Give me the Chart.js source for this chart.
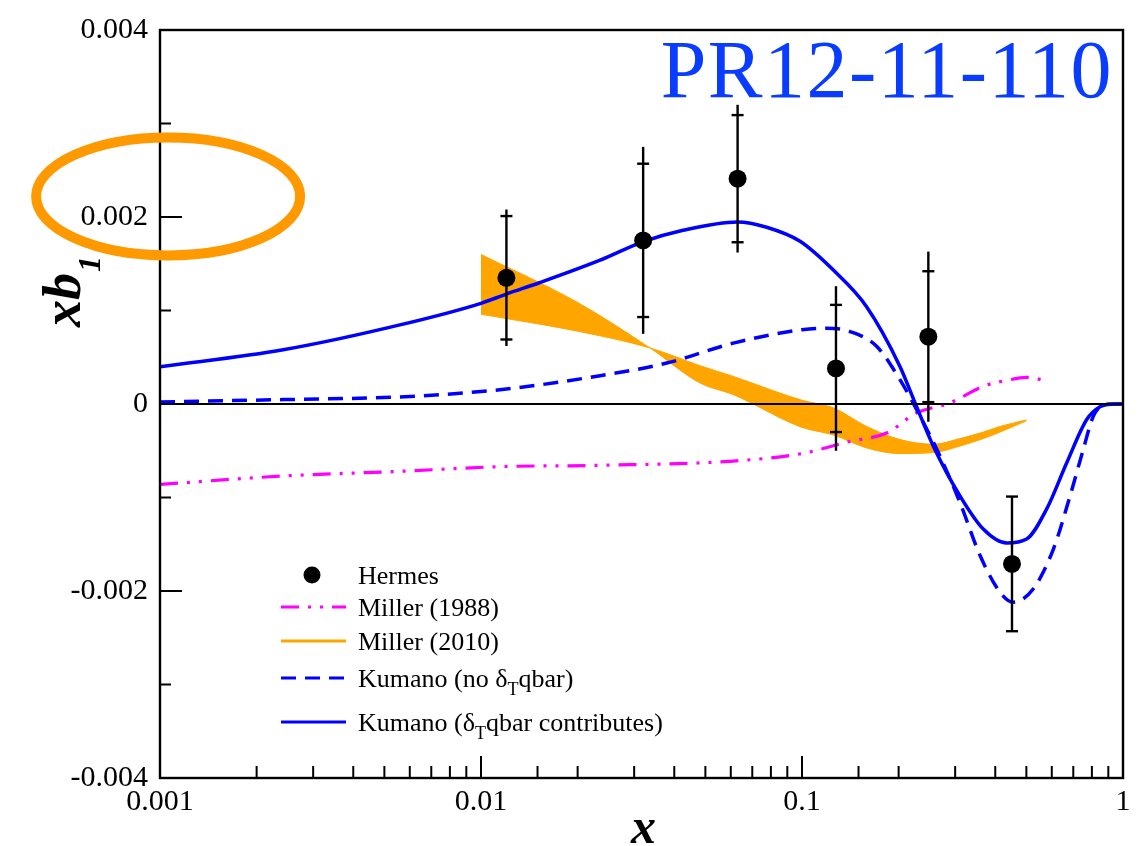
<!DOCTYPE html>
<html>
<head>
<meta charset="utf-8">
<script src="https://cdn.jsdelivr.net/npm/chart.js@4.4.0/dist/chart.umd.min.js"></script>
<style>
    html, body { margin: 0; padding: 0; background: #fff; }
    canvas { display: block; }
</style>
</head>
<body>
<canvas id="myChart" width="1138" height="846"></canvas>
<script>
// tick labels
let xTickLabels = ['0.001', '0.01', '0.1', '1'];
let yTickLabels = ['-0.004', '-0.002', '0', '0.002', '0.004'];

// Hermes data (stat = inner caps, tot = full bar)
let hermesX = [0.0120, 0.0320, 0.0630, 0.1276, 0.2475, 0.451];
let hermesY = [0.00135, 0.00175, 0.00241, 0.00038, 0.00072, -0.00171];
let hermesStat = [0.00066, 0.00082, 0.00068, 0.00068, 0.00070, 0.00072];
let hermesTot = [0.00073, 0.00100, 0.00079, 0.00088, 0.00091, 0.00072];

// Miller (1988)
let miller88X = [0.001, 0.00242, 0.00559, 0.01146, 0.0235, 0.0611, 0.1, 0.141, 0.1835, 0.2276, 0.289, 0.367, 0.434, 0.501, 0.578];
let miller88Y = [-0.00086, -0.00077, -0.00072, -0.00067, -0.000656, -0.00061, -0.00053, -0.0004, -0.00031, -0.000095, 0.000012, 0.00019, 0.000253, 0.000285, 0.000249];

// Miller (2010) band edges
let miller10X = [0.01, 0.0199, 0.0336, 0.0481, 0.0611, 0.1, 0.125, 0.159, 0.202, 0.257, 0.3105, 0.367, 0.414, 0.5];
let miller10A = [0.0016, 0.00109, 0.0006, 0.000225, 0.0001, -0.00025, -0.00033, -0.00047, -0.00053, -0.00052, -0.00045, -0.00037, -0.0003, -0.00018];
let miller10B = [0.00096, 0.00078, 0.0006, 0.00041, 0.000295, 0.00004, -0.00004, -0.00024, -0.00038, -0.00043, -0.00037, -0.0003, -0.00024, -0.00017];

// Kumano (no dT qbar)
let kumanoNoX = [0.001, 0.00242, 0.00559, 0.01146, 0.0235, 0.0379, 0.0611, 0.1, 0.1193, 0.1411, 0.171, 0.2019, 0.2276, 0.269, 0.3105, 0.359, 0.414, 0.455, 0.525, 0.607, 0.684, 0.752, 0.808, 0.87, 0.93, 1];
let kumanoNoY = [0.000022, 0.000047, 0.000076, 0.000153, 0.000303, 0.000438, 0.000651, 0.000795, 0.000811, 0.000775, 0.000615, 0.00026, -0.00006, -0.000557, -0.001054, -0.001623, -0.002013, -0.00212, -0.001978, -0.001551, -0.000983, -0.000486, -0.000131, -0.00001, 0, 0];

// Kumano (dT qbar contributes)
let kumanoX = [0.001, 0.00242, 0.00559, 0.01, 0.012, 0.0152, 0.0235, 0.0319, 0.0426, 0.063, 0.0776, 0.0986, 0.1252, 0.1589, 0.2019, 0.225, 0.2566, 0.3105, 0.367, 0.434, 0.501, 0.578, 0.668, 0.771, 0.848, 0.92, 1];
let kumanoY = [0.000398, 0.00058, 0.000846, 0.001077, 0.001176, 0.001297, 0.001538, 0.001734, 0.001858, 0.001947, 0.00189, 0.00174, 0.001432, 0.001041, 0.000402, 0.0000117, -0.000451, -0.000983, -0.001338, -0.001487, -0.001445, -0.001125, -0.000628, -0.000166, -0.00003, -0.000002, 0];

let pts = (xs, ys) => xs.map((x, i) => ({x: x, y: ys[i]}));

let serif = '"Liberation Serif", "Times New Roman", serif';
let orange = '#ffa500';
let blue = '#0000ff';
let magenta = '#ff00ff';

let datasets = [
    {
        label: 'Hermes',
        data: pts(hermesX, hermesY),
        showLine: false,
        pointRadius: 9,
        pointBackgroundColor: '#000',
        pointBorderWidth: 0,
        order: 0
    },
    {
        label: 'Kumano (δ_Tqbar contributes)',
        data: pts(kumanoX, kumanoY),
        borderColor: blue,
        borderWidth: 3.5,
        pointRadius: 0,
        cubicInterpolationMode: 'monotone',
        order: 1
    },
    {
        label: 'Kumano (no δ_Tqbar)',
        data: pts(kumanoNoX, kumanoNoY),
        borderColor: blue,
        borderWidth: 3.5,
        borderDash: [15, 9],
        pointRadius: 0,
        cubicInterpolationMode: 'monotone',
        order: 2
    },
    {
        label: 'Miller (1988)',
        data: pts(miller88X, miller88Y),
        borderColor: magenta,
        borderWidth: 3.2,
        borderDash: [18, 9, 3, 9, 3, 9],
        pointRadius: 0,
        cubicInterpolationMode: 'monotone',
        order: 3
    },
    {
        label: 'Miller (2010)',
        data: pts(miller10X, miller10A),
        borderColor: orange,
        backgroundColor: orange,
        borderWidth: 1,
        pointRadius: 0,
        cubicInterpolationMode: 'monotone',
        fill: '+1',
        order: 4
    },
    {
        label: 'Miller (2010) lower',
        data: pts(miller10X, miller10B),
        borderColor: orange,
        borderWidth: 1,
        pointRadius: 0,
        cubicInterpolationMode: 'monotone',
        fill: false,
        order: 5
    }
];

let line = (ctx, x1, y1, x2, y2) => {
    ctx.beginPath();
    ctx.moveTo(x1, y1);
    ctx.lineTo(x2, y2);
    ctx.stroke();
};

// draws text, a char after '_' goes as subscript
let richText = (ctx, text, x, y, size, subSize, subDrop) => {
    let parts = text.split('_');
    let cx = x;
    parts.forEach((p, i) => {
        if (i > 0) {
            ctx.font = subSize + 'px ' + serif;
            ctx.fillText(p[0], cx, y + subDrop);
            cx += ctx.measureText(p[0]).width;
            p = p.slice(1);
        }
        ctx.font = size + 'px ' + serif;
        ctx.fillText(p, cx, y);
        cx += ctx.measureText(p).width;
    });
};

let decorPlugin = {
    id: 'decor',
    afterDatasetsDraw(chart) {
        let {ctx, chartArea, scales: {x, y}} = chart;
        ctx.save();
        ctx.strokeStyle = '#000';

        // zero line
        ctx.lineWidth = 2;
        let y0 = y.getPixelForValue(0);
        line(ctx, chartArea.left, y0, chartArea.right, y0);

        // error bars
        ctx.lineWidth = 2.4;
        hermesX.forEach((xv, i) => {
            let px = x.getPixelForValue(xv);
            line(ctx, px, y.getPixelForValue(hermesY[i] + hermesTot[i]), px, y.getPixelForValue(hermesY[i] - hermesTot[i]));
            [hermesY[i] + hermesStat[i], hermesY[i] - hermesStat[i]].forEach(v => {
                let py = y.getPixelForValue(v);
                line(ctx, px - 6, py, px + 6, py);
            });
        });
        ctx.restore();
    },
    afterDraw(chart) {
        let {ctx, chartArea, scales: {x, y}} = chart;
        let {left, right, top, bottom} = chartArea;
        ctx.save();
        ctx.strokeStyle = '#000';
        ctx.lineWidth = 2.4;
        ctx.strokeRect(left, top, right - left, bottom - top);

        // y ticks, inward
        ctx.lineWidth = 2;
        let yt = y.ticks.map(t => t.value);
        yt.forEach((v, i) => {
            let py = y.getPixelForValue(v);
            line(ctx, left, py, left + 22, py);
            if (i < yt.length - 1) {
                let pm = y.getPixelForValue((v + yt[i + 1]) / 2);
                line(ctx, left, pm, left + 11, pm);
            }
        });
        // x ticks, inward
        x.ticks.forEach(t => {
            let px = x.getPixelForValue(t.value);
            let e = Math.log10(t.value);
            let major = Math.abs(e - Math.round(e)) < 1e-6;
            line(ctx, px, bottom, px, bottom - (major ? 22 : 12));
        });

        // axis titles
        ctx.fillStyle = '#000';
        ctx.textAlign = 'center';
        ctx.textBaseline = 'alphabetic';
        ctx.font = 'italic bold 50px ' + serif;
        ctx.fillText('x', (left + right) / 2 + 2, 843);

        ctx.save();
        ctx.translate(80, 327);
        ctx.rotate(-Math.PI / 2);
        ctx.textAlign = 'left';
        ctx.font = 'italic bold 54px ' + serif;
        ctx.fillText('xb', 0, 0);
        let w = ctx.measureText('xb').width;
        ctx.font = 'italic bold 32px ' + serif;
        ctx.fillText('1', w + 1, 20);
        ctx.restore();

        // legend
        let rows = [575, 607, 641, 678, 722];
        let legendOrder = [0, 3, 4, 2, 1];
        ctx.textAlign = 'left';
        legendOrder.forEach((di, r) => {
            let ds = chart.data.datasets[di];
            let ry = rows[r];
            if (di === 0) {
                ctx.beginPath();
                ctx.arc(312, ry, 8.5, 0, Math.PI * 2);
                ctx.fillStyle = '#000';
                ctx.fill();
            } else {
                ctx.strokeStyle = ds.borderColor;
                ctx.lineWidth = 3.2;
                ctx.setLineDash(ds.borderDash || []);
                line(ctx, 281, ry, 346, ry);
                ctx.setLineDash([]);
            }
            ctx.fillStyle = '#000';
            richText(ctx, ds.label, 358, ry + 9, 26, 18, 8);
        });

        // title
        ctx.fillStyle = '#0a3cff';
        ctx.textAlign = 'right';
        ctx.font = '82px ' + serif;
        ctx.letterSpacing = '1.5px';
        ctx.fillText('PR12-11-110', 1113, 97);
        ctx.letterSpacing = '0px';

        // highlight ring
        ctx.strokeStyle = '#ff9900';
        ctx.lineWidth = 10;
        ctx.beginPath();
        ctx.ellipse(x.getPixelForValue(0.00106), y.getPixelForValue(0.00222), 132, 59, 0, 0, Math.PI * 2);
        ctx.stroke();
        ctx.restore();
    }
};

new Chart(document.getElementById('myChart'), {
    type: 'line',
    data: {datasets: datasets},
    options: {
        responsive: false,
        animation: false,
        devicePixelRatio: 1,
        layout: {padding: {top: 29, right: 15, left: 0, bottom: 0}},
        plugins: {legend: {display: false}, tooltip: {enabled: false}},
        scales: {
            x: {
                type: 'logarithmic',
                min: 0.001,
                max: 1,
                afterFit: s => { s.height = 68; },
                grid: {display: false, drawTicks: false},
                border: {display: false},
                ticks: {
                    autoSkip: false,
                    maxRotation: 0,
                    padding: 6,
                    color: '#000',
                    font: {family: serif, size: 30},
                    callback: v => {
                        let e = Math.log10(v);
                        let r = Math.round(e);
                        return Math.abs(e - r) < 1e-6 ? xTickLabels[r + 3] : '';
                    }
                }
            },
            y: {
                min: -0.004,
                max: 0.004,
                afterFit: s => { s.width = 160; },
                grid: {display: false, drawTicks: false},
                border: {display: false},
                ticks: {
                    stepSize: 0.002,
                    padding: 12,
                    color: '#000',
                    font: {family: serif, size: 30},
                    callback: (v, i) => yTickLabels[i]
                }
            }
        }
    },
    plugins: [decorPlugin]
});
</script>
</body>
</html>
